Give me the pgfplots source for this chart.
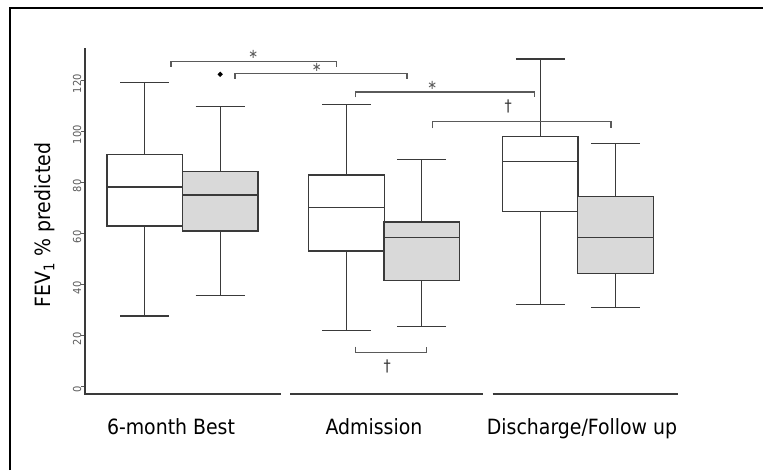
\documentclass[border=0pt]{standalone}
\usepackage{pgfplots}
\pgfplotsset{compat=1.18}
\usepgfplotslibrary{statistics}
\usepackage{fontspec}
\setmainfont{DejaVu Sans Condensed}
\definecolor{boxline}{HTML}{3A3A3A}
\definecolor{boxfill}{HTML}{D9D9D9}
\definecolor{brk}{HTML}{5A5A5A}
\begin{document}
\begin{tikzpicture}
\begin{axis}[
  x=1pt, y=2.55pt,
  xmin=85, xmax=763, ymin=-2.86, ymax=132.7,
  axis line style={draw=none},
  clip=false,
  xtick=\empty,
  ytick={0,20,40,60,80,100,120},
  ytick pos=left,
  tick align=outside,
  major tick length=3.5pt,
  tick style={color=brk, line width=1.1pt},
  /pgf/number format/assume math mode=true,
  yticklabel style={rotate=90, anchor=south, inner sep=0pt, xshift=-3pt,
    font=\fontsize{11}{13}\selectfont, text=brk},
  boxplot/draw direction=y,
]
% data: draw position, lower whisker, lower quartile, median, upper quartile, upper whisker
\addplot[boxplot prepared={draw position=144.85, lower whisker=27.7, lower quartile=63.0, median=78.3, upper quartile=91.1, upper whisker=119.2, box extend=75.5, whisker extend=49}, draw=boxline, fill=white, line width=1.25pt, solid] coordinates {};
\addplot[boxplot prepared={draw position=220.2, lower whisker=35.8, lower quartile=61.1, median=75.2, upper quartile=84.3, upper whisker=110.0, box extend=75.5, whisker extend=49}, draw=boxline, fill=boxfill, line width=1.25pt, solid, mark=*, mark size=1.8pt, mark options={fill=black, draw=black}] table[row sep=\\, y index=0] {data\\ 122.5\\};
\addplot[boxplot prepared={draw position=346.5, lower whisker=22.1, lower quartile=53.2, median=70.2, upper quartile=83.0, upper whisker=110.7, box extend=75.5, whisker extend=49}, draw=boxline, fill=white, line width=1.25pt, solid] coordinates {};
\addplot[boxplot prepared={draw position=421.8, lower whisker=23.7, lower quartile=41.6, median=58.6, upper quartile=64.6, upper whisker=89.2, box extend=75.5, whisker extend=49}, draw=boxline, fill=boxfill, line width=1.25pt, solid] coordinates {};
\addplot[boxplot prepared={draw position=540.35, lower whisker=32.2, lower quartile=68.8, median=88.4, upper quartile=98.0, upper whisker=128.5, box extend=75.5, whisker extend=49}, draw=boxline, fill=white, line width=1.25pt, solid] coordinates {};
\addplot[boxplot prepared={draw position=615.5, lower whisker=31.0, lower quartile=44.3, median=58.4, upper quartile=74.7, upper whisker=95.4, box extend=75.5, whisker extend=49}, draw=boxline, fill=boxfill, line width=1.25pt, solid] coordinates {};

% axis lines
\draw[boxline, line width=1.25pt] (axis cs:85,132.7) -- (axis cs:85,-2.86) -- (axis cs:281,-2.86);
\draw[boxline, line width=1.25pt] (axis cs:290,-2.86) -- (axis cs:483,-2.86);
\draw[boxline, line width=1.25pt] (axis cs:492.7,-2.86) -- (axis cs:678,-2.86);

% category labels
\node[anchor=base, font=\fontsize{21}{25}\selectfont] at (axis cs:171,-18.9) {6-month Best};
\node[anchor=base, font=\fontsize{21}{25}\selectfont] at (axis cs:374,-18.9) {Admission};
\node[anchor=base, font=\fontsize{21}{25}\selectfont] at (axis cs:582,-18.9) {Discharge/Follow up};

% y label
\node[rotate=90, font=\fontsize{21}{24}\selectfont] at (axis cs:45,63.4) {FEV\textsubscript{1} \% predicted};

% significance brackets
\draw[brk, line width=1.3pt] (axis cs:171,125.5) -- (axis cs:171,127.45) -- (axis cs:336.7,127.45) -- (axis cs:336.7,125.5);
\draw[brk, line width=1.3pt] (axis cs:235,120.67) -- (axis cs:235,122.9) -- (axis cs:407,122.9) -- (axis cs:407,120.67);
\draw[brk, line width=1.3pt] (axis cs:355.7,113.5) -- (axis cs:355.7,115.57) -- (axis cs:534.7,115.57) -- (axis cs:534.7,113.5);
\draw[brk, line width=1.3pt] (axis cs:432.3,101.3) -- (axis cs:432.3,104.0) -- (axis cs:611,104.0) -- (axis cs:611,101.3);
\draw[brk, line width=1.3pt] (axis cs:355.7,15.69) -- (axis cs:355.7,13.49) -- (axis cs:426.7,13.49) -- (axis cs:426.7,15.69);
\node[inner sep=0pt, text=brk, font=\fontsize{13}{13}\selectfont] at (axis cs:253.3,130.35) {∗};
\node[inner sep=0pt, text=brk, font=\fontsize{13}{13}\selectfont] at (axis cs:316.7,125.25) {∗};
\node[inner sep=0pt, text=brk, font=\fontsize{13}{13}\selectfont] at (axis cs:432.3,118.2) {∗};
\node[inner sep=0pt, text=black!80, font=\fontsize{16}{16}\selectfont] at (axis cs:508.3,110.1) {†};
\node[inner sep=0pt, text=black!80, font=\fontsize{16}{16}\selectfont] at (axis cs:387.3,7.84) {†};

% frame
\draw[black, line width=1.5pt] (axis cs:10,-32.67) -- (axis cs:10,148.5) -- (axis cs:763,148.5);
\coordinate (bl) at (axis cs:0,-32.67);
\coordinate (tr) at (axis cs:763,151.65);
\end{axis}
\pgfresetboundingbox
\useasboundingbox (bl) rectangle (tr);
\end{tikzpicture}
\end{document}
